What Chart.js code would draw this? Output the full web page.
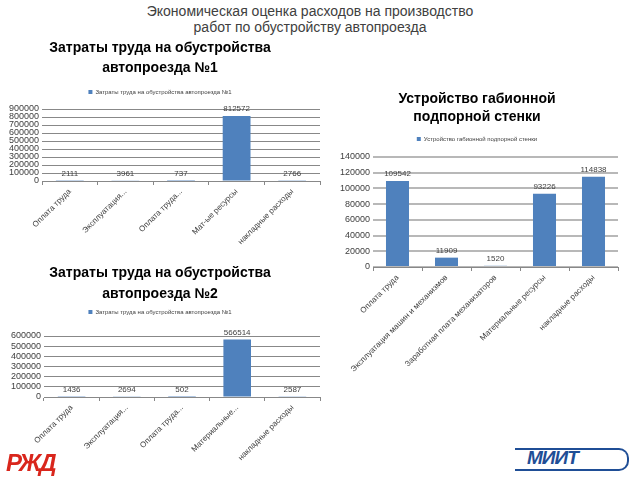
<!DOCTYPE html>
<html><head><meta charset="utf-8">
<script src="https://cdn.jsdelivr.net/npm/chart.js@4"></script>
<style>
html,body{margin:0;padding:0;background:#fff;}
body{width:640px;height:480px;position:relative;overflow:hidden;font-family:"Liberation Sans",Arial,sans-serif;}
.box{position:absolute;}
#mainTitle{position:absolute;left:0;top:3px;width:620px;text-align:center;font-family:"Liberation Sans",Arial,sans-serif;font-size:14px;line-height:16px;color:#404040;}
#rzd{position:absolute;left:6px;top:449px;font:italic bold 24px "Liberation Sans",sans-serif;color:#d9261c;letter-spacing:-2px;}
#miit{position:absolute;left:527px;top:447px;font:italic bold 19px "Liberation Sans",sans-serif;color:#1f4e96;letter-spacing:-1px;}
#miitLine{position:absolute;left:515px;top:448px;width:112px;height:19px;border-top:2px solid #1f4e96;border-right:2px solid #1f4e96;border-bottom:2px solid #1f4e96;border-radius:0 10px 10px 0;}
</style></head>
<body>
<div id="mainTitle">Экономическая оценка расходов на производство<br>работ по обустройству автопроезда</div>
<div class="box" style="left:0;top:38px;width:322px;height:212px;"><canvas id="c1" width="322" height="212"></canvas></div>
<div class="box" style="left:336px;top:85px;width:304px;height:310px;"><canvas id="c2" width="304" height="310"></canvas></div>
<div class="box" style="left:0;top:262px;width:322px;height:215px;"><canvas id="c3" width="322" height="215"></canvas></div>
<div id="rzd">РЖД</div>
<div id="miitLine"></div>
<div id="miit">МИИТ</div>
<script>
// ---- data ----
const chart1Title = ["Затраты труда на обустройства", "автопроезда №1"];
const chart1Series = "Затраты труда на обустройства автопроезда №1";
const chart1Categories = ["Оплата труда", "Эксплуатация...", "Оплата труда...", "Мат-ые ресурсы", "накладные расходы"];
const chart1Values = [2111, 3961, 737, 812572, 2766];
const chart1Max = 900000, chart1Step = 100000;

const chart2Title = ["Устройство габионной", "подпорной стенки"];
const chart2Series = "Устройство габионной подпорной стенки";
const chart2Categories = ["Оплата труда", "Эксплуатация машин и механизмов", "Заработная плата механизаторов", "Материальные ресурсы", "накладные расходы"];
const chart2Values = [109542, 11909, 1520, 93226, 114838];
const chart2Max = 140000, chart2Step = 20000;

const chart3Title = ["Затраты труда на обустройства", "автопроезда №2"];
const chart3Series = "Затраты труда на обустройства автопроезда №1";
const chart3Categories = ["Оплата труда", "Эксплуатация...", "Оплата труда...", "Материальные...", "накладные расходы"];
const chart3Values = [1436, 2694, 502, 566514, 2587];
const chart3Max = 600000, chart3Step = 100000;

const BAR = "#4f81bd";
const TXT = "#404040";
const FONT = "'Liberation Sans', Arial, sans-serif";

const valueLabels = {
  id: "valueLabels",
  afterDatasetsDraw(chart) {
    const ctx = chart.ctx;
    const meta = chart.getDatasetMeta(0);
    ctx.save();
    ctx.font = "8px " + FONT;
    ctx.fillStyle = TXT;
    ctx.textAlign = "center";
    ctx.textBaseline = "bottom";
    meta.data.forEach((el, i) => {
      ctx.fillText(String(chart.data.datasets[0].data[i]), el.x, el.y - 3);
    });
    ctx.restore();
  }
};

function makeChart(id, title, series, cats, vals, max, step, o) {
  return new Chart(document.getElementById(id), {
    type: "bar",
    data: { labels: cats, datasets: [{ label: series, data: vals, backgroundColor: BAR, borderWidth: 0,
      barPercentage: o.barPct, categoryPercentage: 1, xAxisID: "x", yAxisID: "y" }] },
    options: {
      responsive: false, animation: false,
      layout: { padding: o.padding },
      plugins: {
        title: { display: true, text: title, color: "#000", font: { family: FONT, size: 14, weight: "bold", lineHeight: o.titleLH }, padding: o.titlePad },
        legend: { display: true, labels: { boxWidth: 4, boxHeight: 4, font: { family: FONT, size: 6 }, color: TXT, padding: o.legendPad } },
        tooltip: { enabled: false }
      },
      scales: {
        spacer: {
          type: "category", position: "top", display: true,
          grid: { display: false }, border: { display: false }, ticks: { display: false },
          afterFit(s) { s.height = o.spacer; }
        },
        x: {
          grid: { display: true, drawOnChartArea: false, color: "#888", tickLength: 4 },
          border: { color: "#888" },
          ticks: { color: TXT, font: { family: FONT, size: 8 }, minRotation: 45, maxRotation: 45, padding: 2, autoSkip: false },
          afterFit(s) { s.height = o.xHeight; }
        },
        y: {
          min: 0, max: max,
          afterFit(s) { s.width = o.yWidth; },
          grid: { color: o.gridColor, lineWidth: o.gridWidth, drawTicks: false },
          border: { display: false },
          ticks: { stepSize: step, color: TXT, font: { family: FONT, size: 9 }, padding: 3, autoSkip: false,
            callback: (v) => String(v) }
        }
      }
    },
    plugins: [valueLabels]
  });
}

makeChart("c1", chart1Title, chart1Series, chart1Categories, chart1Values, chart1Max, chart1Step,
  { barPct: 0.5, padding: { left: 0, right: 2, top: 0, bottom: 0 }, titleLH: 20/14, titlePad: { top: 0, bottom: 0 },
    legendPad: 11, spacer: 4, xHeight: 69, yWidth: 42, gridColor: "#888", gridWidth: 1 });
makeChart("c2", chart2Title, chart2Series, chart2Categories, chart2Values, chart2Max, chart2Step,
  { barPct: 0.47, padding: { left: 0, right: 22, top: 0, bottom: 0 }, titleLH: 18/14, titlePad: { top: 5, bottom: 0 },
    legendPad: 10, spacer: 5, xHeight: 128, yWidth: 37, gridColor: "#b8b8b8", gridWidth: 2 });
makeChart("c3", chart3Title, chart3Series, chart3Categories, chart3Values, chart3Max, chart3Step,
  { barPct: 0.5, padding: { left: 0, right: 2, top: 0, bottom: 0 }, titleLH: 21/14, titlePad: { top: 1, bottom: 0 },
    legendPad: 4, spacer: 11, xHeight: 80, yWidth: 44, gridColor: "#888", gridWidth: 1 });
</script>
</body></html>
